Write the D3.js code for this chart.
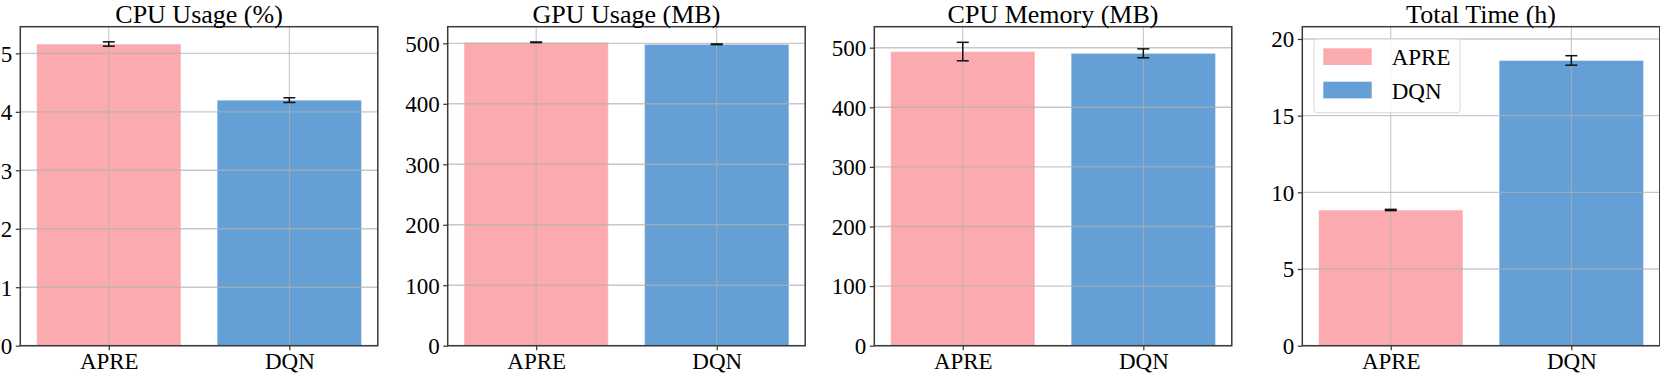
<!DOCTYPE html>
<html>
<head>
<meta charset="utf-8">
<script src="https://cdn.jsdelivr.net/npm/d3@7"></script>
<style>
  body { margin: 0; background: #fff; }
  svg { display: block; font-family: "Liberation Serif", "Times New Roman", serif; }
  svg text { font-family: "Liberation Serif", "Times New Roman", serif; }
</style>
</head>
<body>
<div id="chart"></div>
<script>
// data
const methods = ["APRE", "DQN"];
const titles = ["CPU Usage (%)", "GPU Usage (MB)", "CPU Memory (MB)", "Total Time (h)"];
const apreValues = [5.16, 501.7, 493.5, 8.85];
const apreErrors = [0.037, 0.4, 15.5, 0.04];
const dqnValues = [4.20, 498.4, 490.5, 18.6];
const dqnErrors = [0.04, 0.5, 7.5, 0.31];
const yMax = [5.456, 527.5, 535.2, 20.8];
const yTicks = [[0, 1, 2, 3, 4, 5], [0, 100, 200, 300, 400, 500], [0, 100, 200, 300, 400, 500], [0, 5, 10, 15, 20]];
const colors = { APRE: "#fbaab0", DQN: "#649fd5" };

// layout
const W = 1660, H = 376;
const panelLefts = [20.3, 447.7, 874.3, 1302.3];
const panelWidth = 357.5;
const plotTop = 26.7, plotBottom = 345.7;

const svg = d3.select("#chart").append("svg")
    .attr("width", W)
    .attr("height", H);

titles.forEach((title, i) => {
    const rows = methods.map(m => ({
        name: m,
        value: m === "APRE" ? apreValues[i] : dqnValues[i],
        err: m === "APRE" ? apreErrors[i] : dqnErrors[i]
    }));

    const g = svg.append("g").attr("transform", `translate(${panelLefts[i]},0)`);

    // x in matplotlib-like index units: bars at 0,1 width 0.8, margins 0.05
    var x = d3.scaleLinear()
        .domain([-0.49, 1.49])
        .range([0, panelWidth]);
    var y = d3.scaleLinear()
        .domain([0, yMax[i]])
        .range([plotBottom, plotTop]);

    // bars
    g.selectAll("rect.bar")
        .data(rows)
        .enter()
        .append("rect")
            .attr("class", "bar")
            .attr("x", (d, j) => x(j - 0.4))
            .attr("y", d => y(d.value))
            .attr("width", x(0.4) - x(-0.4))
            .attr("height", d => plotBottom - y(d.value))
            .attr("fill", d => colors[d.name])
            .attr("stroke", "rgba(255,255,255,0.45)")
            .attr("stroke-width", 1.2);

    // grid on top of bars
    g.selectAll("line.hgrid")
        .data(yTicks[i])
        .enter()
        .append("line")
            .attr("x1", 0).attr("x2", panelWidth)
            .attr("y1", d => y(d)).attr("y2", d => y(d))
            .attr("stroke", "#b0b0b0")
            .attr("stroke-opacity", 0.7)
            .attr("stroke-width", 1.4);
    g.selectAll("line.vgrid")
        .data(rows)
        .enter()
        .append("line")
            .attr("x1", (d, j) => x(j)).attr("x2", (d, j) => x(j))
            .attr("y1", plotTop).attr("y2", plotBottom)
            .attr("stroke", "#b0b0b0")
            .attr("stroke-opacity", 0.8)
            .attr("stroke-width", 1);

    // error bars
    const eb = g.selectAll("g.err")
        .data(rows)
        .enter()
        .append("g")
            .attr("stroke", "#111")
            .attr("stroke-width", 1.5);
    eb.append("line")
        .attr("x1", (d, j) => x(j)).attr("x2", (d, j) => x(j))
        .attr("y1", d => y(d.value - d.err)).attr("y2", d => y(d.value + d.err));
    eb.append("line")
        .attr("x1", (d, j) => x(j) - 6).attr("x2", (d, j) => x(j) + 6)
        .attr("y1", d => y(d.value - d.err)).attr("y2", d => y(d.value - d.err));
    eb.append("line")
        .attr("x1", (d, j) => x(j) - 6).attr("x2", (d, j) => x(j) + 6)
        .attr("y1", d => y(d.value + d.err)).attr("y2", d => y(d.value + d.err));

    // axes
    const yAxis = g.append("g")
        .call(d3.axisLeft(y).tickValues(yTicks[i]).tickSize(4.5).tickPadding(3.5).tickFormat(d3.format("d")));
    const xAxis = g.append("g")
        .attr("transform", `translate(0,${plotBottom})`)
        .call(d3.axisBottom(x).tickValues([0, 1]).tickSize(4.5).tickPadding(2).tickFormat(d => methods[d]));
    [yAxis, xAxis].forEach(a => {
        a.attr("font-family", "Liberation Serif").attr("font-size", 23);
        a.select(".domain").remove();
        a.selectAll("line").attr("stroke", "#333").attr("stroke-width", 1.2);
        a.selectAll("text").attr("fill", "#000");
    });
    yAxis.selectAll("text").attr("dy", "0.34em");

    // frame
    g.append("rect")
        .attr("x", 0).attr("y", plotTop)
        .attr("width", panelWidth).attr("height", plotBottom - plotTop)
        .attr("fill", "none")
        .attr("stroke", "#3a3a3a")
        .attr("stroke-width", 1.5);

    // title
    g.append("text")
        .attr("x", panelWidth / 2)
        .attr("y", 23.2)
        .style("text-anchor", "middle")
        .style("font-size", "26px")
        .text(title);

    // legend only in last panel
    if (i === 3) {
        const lg = g.append("g").attr("transform", "translate(11.7,12.3)");
        lg.append("rect")
            .attr("x", 0).attr("y", plotTop)
            .attr("width", 146).attr("height", 73.7)
            .attr("rx", 3)
            .attr("fill", "rgba(255,255,255,0.8)")
            .attr("stroke", "#d8d8d8")
            .attr("stroke-width", 1);
        methods.forEach((m, k) => {
            lg.append("rect")
                .attr("x", 9.3).attr("y", plotTop + 9.3 + k * 33.4)
                .attr("width", 48.4).attr("height", 16.7)
                .attr("fill", colors[m]);
            lg.append("text")
                .attr("x", 77.7).attr("y", plotTop + 26 + k * 33.8)
                .style("font-size", "23px")
                .text(m);
        });
    }
});
</script>
</body>
</html>
